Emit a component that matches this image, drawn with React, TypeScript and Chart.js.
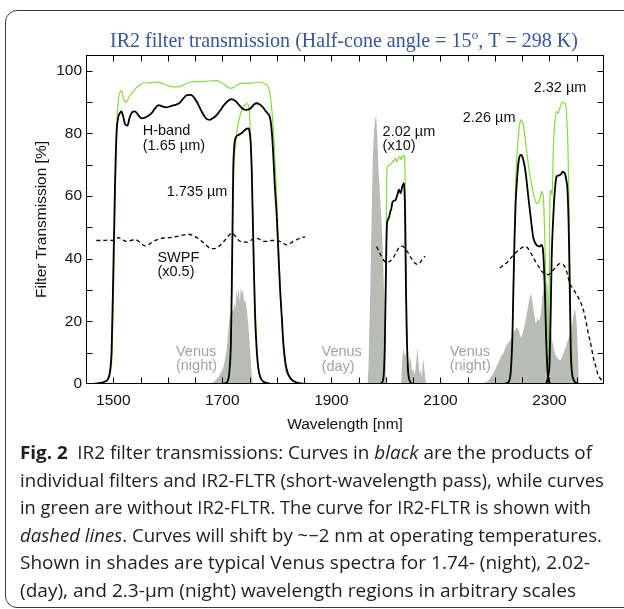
import React, { useEffect, useLayoutEffect, useRef } from 'react';
import { Chart, registerables } from 'chart.js';
Chart.register(...registerables);

// ---------- axes ----------
const X_MIN = 1450;
const X_MAX = 2400;
const Y_MIN = 0;
const Y_MAX = 105;
const xLabelTicks = [1500, 1700, 1900, 2100, 2300];
const yLabelTicks = [0, 20, 40, 60, 80, 100];
const xMinorStep = 50;
const yMinorStep = 10;

// ---------- Venus spectra (arbitrary scales) ----------
const venusNight1X = [1680, 1686, 1692, 1697, 1700, 1703, 1706, 1708, 1710, 1712, 1714, 1716, 1718, 1720, 1722, 1724, 1726, 1728, 1730, 1732, 1734, 1736, 1738, 1740, 1742, 1744, 1746, 1748, 1750, 1752, 1754, 1756];
const venusNight1Y = [0, 1, 2, 3.5, 4.5, 6, 9, 11, 15, 19, 22, 20, 24, 23, 26, 24, 30, 27, 31, 26, 31, 29, 30, 26, 27, 25, 22, 18, 13, 8, 3, 0];

const venusDayX = [1966, 1968, 1970, 1972, 1974, 1976, 1978, 1980, 1982, 1984, 1986, 1988, 1990, 1992, 1994, 1996, 1998, 2000, 2028, 2030, 2032, 2034, 2036, 2038, 2040, 2042, 2044, 2046, 2048, 2050, 2052, 2054, 2056, 2058, 2060, 2062, 2064, 2066, 2068, 2070, 2072, 2074, 2076];
const venusDayY = [0, 5, 20, 35, 55, 72, 80, 84, 86, 80, 70, 64, 58, 52, 44, 33, 20, 0, 0, 8, 12, 9, 10, 6, 8, 5, 9, 7, 4, 5, 3, 4, 8, 12, 6, 3, 5, 2, 8, 6, 2, 0, 0];

const venusNight2X = [2176, 2182, 2188, 2192, 2196, 2200, 2204, 2208, 2212, 2216, 2220, 2224, 2228, 2232, 2236, 2240, 2244, 2248, 2252, 2256, 2260, 2263, 2266, 2269, 2272, 2275, 2278, 2281, 2284, 2287, 2290, 2293, 2296, 2299, 2302, 2305, 2308, 2312, 2316, 2320, 2324, 2328, 2332, 2336, 2340, 2344, 2347, 2350, 2352, 2354];
const venusNight2Y = [0, 0.5, 1, 2, 3, 4.5, 6, 7.5, 9, 10, 12, 13, 14, 15.5, 17, 18, 17, 14.5, 17, 20, 24, 27, 29, 26, 22, 19, 21, 20, 22, 28, 31, 33, 32, 26, 18, 14, 11, 9, 8, 7.5, 9, 11, 13, 15, 17, 22, 24, 19, 10, 0];

// ---------- H-band (1.65 um) ----------
const hGreenX = [1462, 1480, 1490, 1495, 1498, 1500, 1503, 1506, 1509, 1512, 1515, 1519, 1523, 1526, 1530, 1536, 1542, 1550, 1558, 1566, 1575, 1585, 1595, 1605, 1615, 1622, 1630, 1640, 1650, 1659, 1668, 1678, 1690, 1700, 1708, 1714, 1720, 1728, 1737, 1745, 1755, 1763, 1769, 1775, 1780, 1784, 1788, 1791, 1794, 1797, 1800, 1803, 1806, 1809, 1812, 1816, 1822, 1830, 1840, 1852];
const hGreenY = [0, 0.5, 1.5, 4, 10, 25, 55, 80, 90, 93, 93.6, 91, 89.9, 90.5, 92, 93, 94.5, 95.5, 96.3, 96, 96.4, 96.2, 95.5, 95, 94.8, 94.9, 95.5, 96.3, 96.5, 96.5, 96.6, 96.7, 96.8, 96, 95, 94.4, 94.6, 95.5, 96, 96, 96, 96.3, 96.3, 96, 95.6, 95, 92, 87, 80, 70, 58, 45, 32, 20, 11, 5, 2.4, 1, 0.3, 0];
const hBlackX = [1462, 1475, 1485, 1490, 1494, 1497, 1500, 1503, 1506, 1509, 1512, 1515, 1518, 1522, 1526, 1530, 1535, 1540, 1546, 1552, 1558, 1564, 1570, 1576, 1583, 1590, 1597, 1604, 1612, 1620, 1628, 1635, 1642, 1648, 1655, 1662, 1670, 1677, 1684, 1690, 1696, 1703, 1710, 1717, 1724, 1731, 1738, 1745, 1752, 1758, 1763, 1768, 1774, 1779, 1783, 1787, 1790, 1793, 1796, 1800, 1803, 1806, 1809, 1812, 1816, 1820, 1825, 1832, 1840, 1852];
const hBlackY = [0, 0.3, 0.8, 1.5, 4, 11, 35, 62, 80, 85, 86.4, 87, 85.5, 82.8, 82.5, 85, 86.8, 87, 85.8, 84.8, 85, 85.6, 86.4, 87.8, 89, 88.6, 88.3, 88.6, 89, 89.5, 91, 92.2, 92.3, 91.5, 89.5, 87, 84.8, 84.3, 85, 85.9, 87.3, 89, 90.3, 90.9, 90.3, 89, 87.8, 87.5, 88, 89.2, 89.6, 89.3, 88.4, 87.2, 86.4, 85.3, 82, 74.7, 64, 53, 41, 30, 21.6, 13, 6.5, 3.5, 1.8, 0.8, 0.3, 0];

// ---------- 1.735 um ----------
const f1735GreenX = [1700, 1706, 1710, 1713, 1716, 1718, 1720, 1722, 1725, 1728, 1732, 1736, 1741, 1745, 1748, 1750, 1752, 1754, 1756, 1758, 1760, 1763, 1766, 1770, 1775, 1782, 1790];
const f1735GreenY = [0, 0.3, 1, 4, 15, 35, 60, 72, 78, 82, 85.3, 87.5, 89, 89.5, 89, 86, 78, 66, 52, 38, 26, 13, 6, 2.5, 1, 0.3, 0];
const f1735BlackX = [1700, 1706, 1710, 1713, 1716, 1718, 1720, 1722, 1726, 1730, 1735, 1741, 1745, 1748, 1750, 1752, 1754, 1756, 1758, 1760, 1763, 1766, 1770, 1775, 1782, 1790];
const f1735BlackY = [0, 0.3, 1, 4, 15, 40, 68, 76, 79, 79.5, 80, 81, 81.5, 81.6, 80.5, 77, 68, 52, 36, 22, 11, 5, 2, 0.8, 0.3, 0];

// ---------- 2.02 um (x10) ----------
const f202GreenX = [1990, 1993, 1996, 1998, 2000, 2001, 2002, 2004, 2007, 2010, 2013, 2016, 2018, 2019, 2021, 2024, 2026, 2028, 2030, 2033, 2034, 2035, 2036, 2037, 2038, 2040, 2042, 2045, 2050];
const f202GreenY = [0, 0.5, 3, 12, 35, 55, 68.9, 69.5, 70, 70.5, 71, 71.5, 72, 71, 71.2, 72.3, 72.6, 71.5, 72.5, 73.1, 72, 68, 56, 40, 25, 9, 3, 0.8, 0];
const f202BlackX = [1990, 1993, 1996, 1998, 2000, 2001, 2002, 2004, 2006, 2008, 2010, 2012, 2015, 2018, 2021, 2024, 2027, 2030, 2033, 2034, 2035, 2036, 2037, 2038, 2040, 2042, 2045, 2050];
const f202BlackY = [0, 0.5, 3, 12, 35, 45, 51, 52.5, 53.4, 55, 56, 58, 58.5, 58.8, 60.4, 62, 60.9, 63, 64.1, 62, 56, 42, 28, 18, 6, 2, 0.6, 0];

// ---------- 2.26 um ----------
const f226GreenX = [2215, 2222, 2226, 2229, 2232, 2234, 2236, 2238, 2240, 2243, 2245, 2247, 2249, 2252, 2255, 2258, 2262, 2267, 2271, 2276, 2280, 2283, 2286, 2288, 2290, 2292, 2294, 2296, 2298, 2302];
const f226GreenY = [0, 0.3, 1, 4, 15, 30, 48, 64, 72, 79, 82.5, 84.3, 84, 82.7, 79, 74.7, 69, 64, 60.5, 57.7, 58, 59.5, 61.4, 60.5, 55, 43, 25, 10, 2, 0];
const f226BlackX = [2215, 2222, 2226, 2229, 2232, 2234, 2236, 2238, 2240, 2243, 2245, 2247, 2249, 2252, 2255, 2258, 2261, 2264, 2267, 2270, 2273, 2276, 2279, 2282, 2285, 2288, 2290, 2292, 2294, 2296, 2298, 2302];
const f226BlackY = [0, 0.3, 1, 4, 15, 32, 47, 58, 64, 70.5, 72.5, 73.1, 73, 71.5, 69, 65, 60, 55.6, 51, 47, 45.3, 44.4, 44, 43.9, 44.4, 43, 37, 27, 14, 5.6, 1.5, 0];

// ---------- 2.32 um ----------
const f232GreenX = [2292, 2295, 2297, 2298, 2299, 2300, 2301, 2303, 2305, 2307, 2310, 2313, 2316, 2319, 2321, 2323, 2325, 2328, 2330, 2332, 2334, 2336, 2337, 2339, 2341, 2344, 2348, 2352];
const f232GreenY = [0, 1, 4, 10, 22, 40, 61, 62, 60, 74.7, 83.7, 87, 86.4, 88, 89, 89.8, 90, 89.5, 89, 84, 74.7, 55, 43, 20, 7, 2, 0.5, 0];
const f232BlackX = [2292, 2295, 2297, 2299, 2300, 2302, 2304, 2307, 2310, 2313, 2316, 2319, 2322, 2324, 2326, 2328, 2331, 2333, 2335, 2336, 2338, 2339, 2341, 2344, 2348, 2352];
const f232BlackY = [0, 0.5, 2, 4, 6, 20, 40, 53.4, 62, 66.2, 66.5, 66.7, 67.2, 67.8, 67.6, 67.3, 65, 62, 52, 43, 22, 11, 4, 1.4, 0.4, 0];

// ---------- SWPF / IR2-FLTR (x0.5), dashed ----------
const swpf1X = [1469, 1480, 1490, 1500, 1509, 1517, 1524, 1532, 1540, 1549, 1558, 1566, 1573, 1582, 1592, 1604, 1615, 1627, 1638, 1648, 1659, 1668, 1677, 1685, 1692, 1700, 1708, 1717, 1723, 1729, 1737, 1745, 1752, 1760, 1768, 1775, 1782, 1790, 1797, 1804, 1811, 1818, 1824, 1830, 1838, 1845, 1852];
const swpf1Y = [45.8, 45.8, 45.9, 45.8, 46.7, 46, 45.5, 45.8, 46.1, 45.2, 44.1, 44.6, 45.5, 46.2, 46.6, 46.7, 47, 47.5, 47.8, 47.3, 46, 44.7, 43.4, 43.2, 43.7, 45, 46.5, 48.2, 47.3, 46, 45.3, 45.3, 45.8, 46.5, 46.2, 45.5, 45.5, 45.8, 45.8, 45.6, 45, 44.4, 44.8, 45.5, 46.2, 46.7, 46.9];
const swpf2X = [1983, 1988, 1992, 1996, 2001, 2006, 2013, 2019, 2026, 2030, 2035, 2041, 2047, 2053, 2058, 2062, 2066, 2070, 2072];
const swpf2Y = [43.9, 42, 40.7, 39.5, 38.8, 39, 40.2, 42, 43.9, 44, 43.3, 41.8, 40, 38.6, 38.2, 38.6, 39.5, 40.5, 40.8];
const swpf3X = [2209, 2215, 2221, 2228, 2234, 2240, 2246, 2251, 2255, 2260, 2264, 2270, 2276, 2282, 2288, 2293, 2298, 2302, 2307, 2313, 2319, 2324, 2328, 2333, 2337, 2343, 2350, 2356, 2362, 2367, 2371, 2376, 2380, 2385, 2389, 2394, 2399];
const swpf3Y = [37, 37.8, 38.6, 40, 41.2, 42.2, 43.1, 43.7, 43.9, 43.4, 42.3, 40.5, 38.6, 37, 35.6, 35, 34.9, 35.4, 36.4, 37.6, 38.4, 38.2, 37.5, 35, 32.2, 30.5, 28.5, 26.5, 23.7, 20, 16.3, 12.5, 8.8, 5.5, 3, 1.6, 0.8];

// ---------- in-plot annotations (data coordinates) ----------
const blackNotes: [string, number, number][] = [
  ['H-band', 1554, 80.8],
  ['(1.65 \u00b5m)', 1554, 76],
  ['1.735 \u00b5m', 1598, 61.2],
  ['SWPF', 1581, 40.3],
  ['(x0.5)', 1581, 35.8],
  ['2.02 \u00b5m', 1994, 80.5],
  ['(x10)', 1994, 75.8],
  ['2.26 \u00b5m', 2141, 84.9],
  ['2.32 \u00b5m', 2271, 94.5],
];
const grayNotes: [string, number, number][] = [
  ['Venus', 1615, 10.1],
  ['(night)', 1615, 5.6],
  ['Venus', 1882, 10.2],
  ['(day)', 1882, 5.5],
  ['Venus', 2117, 10.1],
  ['(night)', 2117, 5.6],
];

const TITLE_MAIN = 'IR2 filter transmission (Half-cone angle = 15';
const TITLE_SUP = 'o';
const TITLE_END = ', T = 298 K)';
const X_TITLE = 'Wavelength [nm]';
const Y_TITLE = 'Filter Transmission [%]';

const GREEN = '#86d93f';
const BLACK = '#000000';
const SHADE = '#b9bbb5';
const SANS = '"Liberation Sans", Arial, sans-serif';

const pts = (xs: number[], ys: number[]) => xs.map((x, i) => ({ x, y: ys[i] }));

const shade = (xs: number[], ys: number[]) => ({
  data: pts(xs, ys),
  borderWidth: 0,
  borderColor: 'rgba(0,0,0,0)',
  backgroundColor: SHADE,
  fill: 'origin',
  tension: 0,
  pointRadius: 0,
  order: 10,
});
const curve = (xs: number[], ys: number[], color: string, width: number, order: number, dash: number[] = []) => ({
  data: pts(xs, ys),
  borderColor: color,
  borderWidth: width,
  borderDash: dash,
  fill: false,
  cubicInterpolationMode: 'monotone',
  pointRadius: 0,
  order,
});

const decor = {
  id: 'decor',
  afterDatasetsDraw(chart: any) {
    const { ctx, chartArea: a, scales } = chart;
    const sx = scales.x;
    const sy = scales.y;
    ctx.save();
    ctx.strokeStyle = '#000';
    ctx.lineWidth = 1;
    const L = Math.round(a.left) + 0.5;
    const R = Math.round(a.right) - 0.5;
    const T = Math.round(a.top) + 0.5;
    const B = Math.round(a.bottom) - 0.5;
    ctx.beginPath();
    for (let v = X_MIN + xMinorStep; v < X_MAX; v += xMinorStep) {
      const p = Math.round(sx.getPixelForValue(v)) + 0.5;
      ctx.moveTo(p, B); ctx.lineTo(p, B - 6);
      ctx.moveTo(p, T); ctx.lineTo(p, T + 6);
    }
    for (let v = Y_MIN + yMinorStep; v < Y_MAX; v += yMinorStep) {
      const p = Math.round(sy.getPixelForValue(v)) + 0.5;
      ctx.moveTo(L, p); ctx.lineTo(L + 6, p);
      ctx.moveTo(R, p); ctx.lineTo(R - 6, p);
    }
    ctx.stroke();
    ctx.strokeRect(L, T, R - L, B - T);

    ctx.font = `14.5px ${SANS}`;
    ctx.textAlign = 'left';
    ctx.textBaseline = 'middle';
    ctx.fillStyle = '#111';
    blackNotes.forEach(([t, x, y]) => ctx.fillText(t, sx.getPixelForValue(x), sy.getPixelForValue(y)));
    ctx.fillStyle = '#a3a3a3';
    grayNotes.forEach(([t, x, y]) => ctx.fillText(t, sx.getPixelForValue(x), sy.getPixelForValue(y)));

    // axis titles
    ctx.fillStyle = '#111';
    ctx.font = `15.5px ${SANS}`;
    ctx.textAlign = 'center';
    ctx.fillText(X_TITLE, (a.left + a.right) / 2, 425);
    ctx.save();
    ctx.translate(42, (a.top + a.bottom) / 2);
    ctx.rotate(-Math.PI / 2);
    ctx.fillText(Y_TITLE, 0, 0);
    ctx.restore();

    // title with superscript
    const serif = '"Liberation Serif", "Times New Roman", serif';
    ctx.font = `20px ${serif}`;
    const w1 = ctx.measureText(TITLE_MAIN).width;
    const w3 = ctx.measureText(TITLE_END).width;
    ctx.font = `13px ${serif}`;
    const w2 = ctx.measureText(TITLE_SUP).width;
    const k = 468 / (w1 + w2 + w3);
    const fs = 20 * k;
    const total = (w1 + w2 + w3) * k;
    let cx = 344 - total / 2;
    ctx.fillStyle = '#35579a';
    ctx.textAlign = 'left';
    ctx.textBaseline = 'alphabetic';
    ctx.font = `${fs}px ${serif}`;
    ctx.fillText(TITLE_MAIN, cx, 47);
    cx += w1 * k;
    ctx.font = `${13 * k}px ${serif}`;
    ctx.fillText(TITLE_SUP, cx, 47 - fs * 0.42);
    cx += w2 * k;
    ctx.font = `${fs}px ${serif}`;
    ctx.fillText(TITLE_END, cx, 47);
    ctx.restore();
  },
};

const captionLeft = 20;
const captionRights = [592, 604, 591, 602, 590, 576];
const captionFirstCenter = 452;
const captionStep = 27.6;

export default function App() {
  const canvasRef = useRef<HTMLCanvasElement | null>(null);
  const lineRefs = useRef<(HTMLSpanElement | null)[]>([]);

  useEffect(() => {
    const canvas = canvasRef.current;
    if (!canvas) return;
    const chart = new Chart(canvas, {
      type: 'line',
      data: {
        datasets: [
          shade(venusNight1X, venusNight1Y),
          shade(venusDayX, venusDayY),
          shade(venusNight2X, venusNight2Y),
          curve(hGreenX, hGreenY, GREEN, 1.2, 6),
          curve(f1735GreenX, f1735GreenY, GREEN, 1.2, 6),
          curve(f202GreenX, f202GreenY, GREEN, 1.2, 6),
          curve(f226GreenX, f226GreenY, GREEN, 1.2, 6),
          curve(f232GreenX, f232GreenY, GREEN, 1.2, 6),
          curve(hBlackX, hBlackY, BLACK, 1.8, 2),
          curve(f1735BlackX, f1735BlackY, BLACK, 1.8, 2),
          curve(f202BlackX, f202BlackY, BLACK, 1.8, 2),
          curve(f226BlackX, f226BlackY, BLACK, 1.8, 2),
          curve(f232BlackX, f232BlackY, BLACK, 1.8, 2),
          curve(swpf1X, swpf1Y, BLACK, 1.3, 1, [4, 3]),
          curve(swpf2X, swpf2Y, BLACK, 1.3, 1, [4, 3]),
          curve(swpf3X, swpf3Y, BLACK, 1.3, 1, [4, 3]),
        ] as any,
      },
      options: {
        responsive: false,
        animation: false,
        devicePixelRatio: 1,
        layout: { padding: { left: 0, right: 20, top: 55, bottom: 0 } },
        plugins: {
          legend: { display: false },
          tooltip: { enabled: false },
          title: { display: false },
        },
        scales: {
          x: {
            type: 'linear',
            min: X_MIN,
            max: X_MAX,
            grid: { display: false, drawTicks: false },
            border: { display: false },
            afterBuildTicks: (s: any) => { s.ticks = xLabelTicks.map((v) => ({ value: v })); },
            afterFit: (s: any) => { s.height = 56; },
            ticks: {
              padding: 7,
              autoSkip: false,
              maxRotation: 0,
              color: '#111',
              font: { family: SANS, size: 15.5 },
              callback: (v: any) => String(v),
            },
          },
          y: {
            type: 'linear',
            min: Y_MIN,
            max: Y_MAX,
            grid: { display: false, drawTicks: false },
            border: { display: false },
            afterBuildTicks: (s: any) => { s.ticks = yLabelTicks.map((v) => ({ value: v })); },
            afterFit: (s: any) => { s.width = 86; },
            ticks: {
              padding: 4,
              color: '#111',
              font: { family: SANS, size: 15.5 },
              callback: (v: any) => String(v),
            },
          },
        },
      } as any,
      plugins: [decor],
    });
    return () => chart.destroy();
  }, []);

  useLayoutEffect(() => {
    lineRefs.current.forEach((el, i) => {
      if (!el) return;
      el.style.transform = 'none';
      const w = el.getBoundingClientRect().width;
      const target = captionRights[i] - captionLeft;
      if (w > 0) el.style.transform = `scaleX(${target / w})`;
    });
  }, []);

  const lines: React.ReactNode[] = [
    <><b>Fig. 2</b>{'\u2002'}IR2 filter transmissions: Curves in <i>black</i> are the products of</>,
    <>individual filters and IR2-FLTR (short-wavelength pass), while curves</>,
    <>in green are without IR2-FLTR. The curve for IR2-FLTR is shown with</>,
    <><i>dashed lines</i>. Curves will shift by ~{'\u2212'}2 nm at operating temperatures.</>,
    <>Shown in shades are typical Venus spectra for 1.74- (night), 2.02-</>,
    <>(day), and 2.3-{'\u00b5'}m (night) wavelength regions in arbitrary scales</>,
  ];

  return (
    <div style={{ position: 'absolute', left: 0, top: 0, width: 624, height: 609, overflow: 'hidden', background: '#fff' }}>
      <div style={{ position: 'absolute', left: 5, top: 10, width: 660, height: 596, border: '1px solid #3a3a3a', borderRadius: 12 }} />
      <canvas ref={canvasRef} width={624} height={440} style={{ position: 'absolute', left: 0, top: 0, width: 624, height: 440 }} />
      {lines.map((ln, i) => (
        <span
          key={i}
          ref={(el) => { lineRefs.current[i] = el; }}
          style={{
            position: 'absolute',
            left: captionLeft,
            top: captionFirstCenter + i * captionStep - 14,
            height: 28,
            lineHeight: '28px',
            whiteSpace: 'nowrap',
            display: 'inline-block',
            transformOrigin: 'left center',
            fontFamily: '"Open Sans", "Noto Sans", sans-serif',
            fontSize: 18,
            color: '#1e1e1e',
          }}
        >
          {ln}
        </span>
      ))}
    </div>
  );
}
